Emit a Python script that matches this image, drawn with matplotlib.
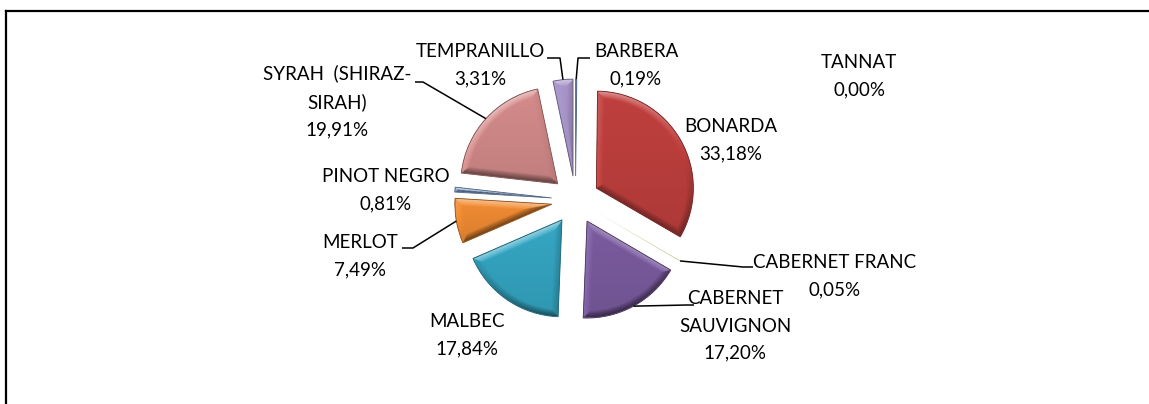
import numpy as np
import matplotlib.pyplot as plt
from matplotlib.colors import to_rgb
from matplotlib.patches import Wedge

W, H = 1149, 404

# superficie por variedad (%)
varietals = ["BARBERA", "BONARDA", "CABERNET FRANC", "CABERNET\nSAUVIGNON", "MALBEC",
             "MERLOT", "PINOT NEGRO", "SYRAH  (SHIRAZ-\nSIRAH)", "TANNAT", "TEMPRANILLO"]
shares = [0.19, 33.18, 0.05, 17.20, 17.84, 7.49, 0.81, 19.91, 0.00, 3.31]
colors = ["#7FA5D6", "#C0403E", "#9BBB59", "#7B5CA0", "#35A7C4",
          "#F28C33", "#8FB0DA", "#D58C8B", "#C3D69B", "#A996CA"]

# label block centres and leader elbows, in pixels from the top-left corner
label_xy = [(636, 65.5), (731, 140.5), (835, 276.5), (735, 326), (467, 335.5),
            (360, 256), (386, 190), (337, 101.5), (859, 76.5), (480.5, 65.5)]
elbows = [[(578, 58), (590, 58)], None, [(743, 267), (753, 267)], [(687, 305), (694, 305)], None,
          [(413, 248), (402, 248)], None, [(423, 82), (415, 82)], None, [(560, 58), (547, 58)]]

CENTER = (575.5, H - 200)
RADIUS = 97
EXPLODE = 24  # offset of every slice, same units as the radius

plt.rcParams['font.family'] = ['Lato', 'DejaVu Sans']


def pct(v):
    return f"{v:.2f}%".replace(".", ",")


def bevel(ax, w, color, width=7.0, light=(-0.3, 0.95)):
    """Shade a wedge with a soft bevel lit from the top."""
    cx, cy = w.center
    t = np.radians(np.linspace(w.theta1, w.theta2, 80))
    poly = np.vstack([[cx, cy], np.c_[cx + w.r * np.cos(t), cy + w.r * np.sin(t)], [cx, cy]])
    x0, y0 = poly.min(axis=0) - 2
    x1, y1 = poly.max(axis=0) + 2
    gx, gy = np.meshgrid(np.arange(x0, x1, 0.5), np.arange(y0, y1, 0.5))
    p = np.c_[gx.ravel(), gy.ravel()]
    best_d = np.full(len(p), np.inf)
    best_v = np.zeros_like(p)
    for a, b in zip(poly[:-1], poly[1:]):
        ab = b - a
        l2 = ab @ ab
        if l2 == 0:
            continue
        tt = np.clip(((p - a) @ ab) / l2, 0, 1)
        v = p - (a + tt[:, None] * ab)
        d = np.hypot(v[:, 0], v[:, 1])
        m = d < best_d
        best_d[m] = d[m]
        best_v[m] = v[m]
    L = np.array(light) / np.hypot(*light)
    inward = best_v / np.maximum(best_d, 1e-9)[:, None]
    facing = -(inward @ L)
    fall = np.clip(1 - best_d / width, 0, 1) ** 0.8
    k = facing * fall * 0.5
    # gentle top-to-bottom darkening of the body
    k += -0.10 * (1 - (p[:, 1] - y0) / max(y1 - y0, 1))
    base = np.array(to_rgb(color))
    rgb = np.where(k[:, None] > 0, base + (1 - base) * k[:, None], base * (1 + k[:, None]))
    img = np.clip(rgb, 0, 1).reshape(gx.shape + (3,))
    im = ax.imshow(img, extent=(x0, x1, y0, y1), origin='lower', interpolation='bilinear', zorder=2)
    im.set_clip_path(w)


fig = plt.figure(figsize=(W / 100, H / 100), dpi=100)
ax = fig.add_axes([0, 0, 1, 1])

wedges, _ = ax.pie(shares, colors=colors, startangle=90, counterclock=False,
                   center=CENTER, radius=RADIUS, explode=[EXPLODE] * len(shares),
                   wedgeprops=dict(linewidth=0))

for w, c, v in zip(wedges, colors, shares):
    if v <= 0:
        continue
    bevel(ax, w, c)
    if v < 0.1:
        continue  # hairline slice, outline would only add a stray line
    dark = np.array(to_rgb(c)) * 0.6
    ax.add_patch(Wedge(w.center, w.r, w.theta1, w.theta2, fill=False, ec=dark, lw=0.6, zorder=3))

for w, name, v, (lx, ly), elb in zip(wedges, varietals, shares, label_xy, elbows):
    ax.text(lx, H - ly, f"{name}\n{pct(v)}", ha='center', va='center', ma='center',
            fontsize=13.5, color='black', linespacing=1.72, zorder=5)
    if elb is None:
        continue
    mid = np.radians((w.theta1 + w.theta2) / 2)
    ax_, ay_ = w.center[0] + w.r * np.cos(mid), w.center[1] + w.r * np.sin(mid)
    xs = [ax_] + [e[0] for e in elb]
    ys = [ay_] + [H - e[1] for e in elb]
    ax.plot(xs, ys, color='black', lw=1.1, zorder=4, solid_capstyle='butt')

# chart frame: top and left borders
ax.plot([6, W], [H - 11, H - 11], color='black', lw=1.6, clip_on=False)
ax.plot([6, 6], [H - 11, 0], color='black', lw=1.6, clip_on=False)

ax.set_xlim(0, W)
ax.set_ylim(0, H)
ax.set_aspect('equal')
ax.axis('off')

fig.savefig("out.png", dpi=100, facecolor='white')
